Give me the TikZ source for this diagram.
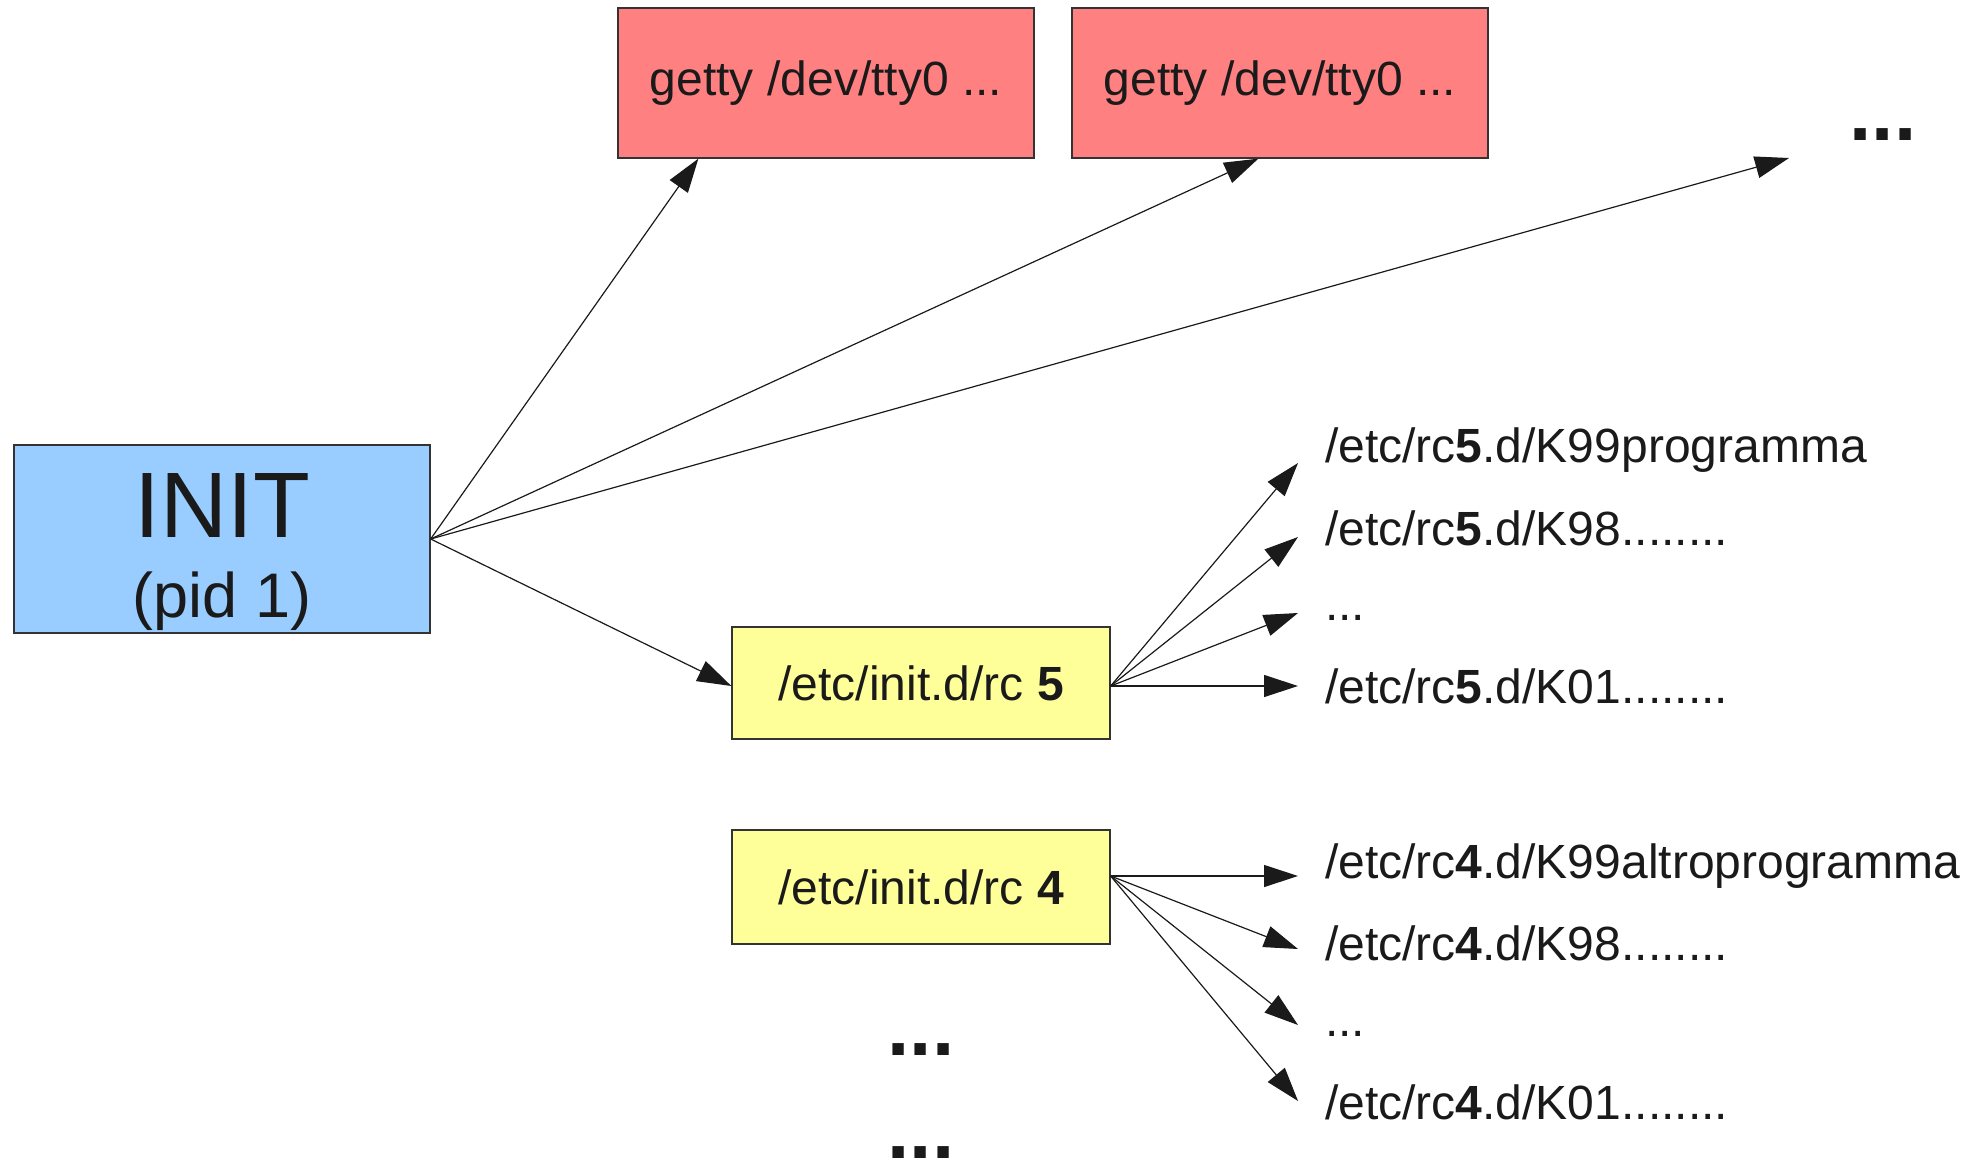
\documentclass[tikz,border=0pt]{standalone}
\usepackage{fontspec}
\setmainfont{Liberation Sans}
\usetikzlibrary{arrows.meta}
\definecolor{initblue}{HTML}{99CCFF}
\definecolor{gettyred}{HTML}{FF8080}
\definecolor{rcyellow}{HTML}{FFFF99}
\definecolor{ink}{HTML}{1A1A1A}
\definecolor{edge}{HTML}{333333}

\begin{document}
\begin{tikzpicture}[x=1pt,y=-1pt,
  box/.style={draw=edge, line width=1.3pt, inner sep=0pt, text=ink,
    font=\fontsize{48}{58}\selectfont},
  arr/.style={line width=1.2pt, draw=ink,
    -{Triangle[length=34pt,width=22pt]}},
  lbl/.style={anchor=base west, inner sep=0pt, text=ink,
    font=\fontsize{48}{58}\selectfont},
  bigdots/.style={anchor=base, inner sep=0pt, text=ink,
    font=\fontsize{80}{90}\selectfont\bfseries}]
\useasboundingbox (0,0) rectangle (1982,1162);

% process boxes
\node[box, fill=initblue, minimum width=416pt, minimum height=188pt] (init) at (222,539) {};
\node[anchor=base, inner sep=0pt, text=ink, font=\fontsize{93}{93}\selectfont] (inittitle) at (222,537) {INIT};
\node[anchor=base, inner sep=0pt, text=ink, font=\fontsize{63}{63}\selectfont] (initpid) at (222,617) {(pid 1)};

\node[box, fill=gettyred, minimum width=416pt, minimum height=150pt] (getty1) at (826,83) {getty /dev/tty0 ...};
\node[box, fill=gettyred, minimum width=416pt, minimum height=150pt] (getty2) at (1280,83) {getty /dev/tty0 ...};

\node[box, fill=rcyellow, minimum width=378pt, minimum height=112pt] (rc5) at (921,683) {/etc/init.d/rc \textbf{5}};
\node[box, fill=rcyellow, minimum width=378pt, minimum height=114pt] (rc4) at (921,887) {/etc/init.d/rc \textbf{4}};

% ellipses for further processes
\node[bigdots] (moregetty) at (1883,140) {...};
\node[bigdots] (morerc1) at (921,1055) {...};
\node[bigdots] (morerc2) at (921,1158) {...};

% scripts started by each runlevel
\node[lbl] (k5a) at (1325,462) {/etc/rc\textbf{5}.d/K99programma};
\node[lbl] (k5b) at (1325,545) {/etc/rc\textbf{5}.d/K98........};
\node[lbl] (k5c) at (1325,620) {...};
\node[lbl] (k5d) at (1325,703) {/etc/rc\textbf{5}.d/K01........};

\node[lbl] (k4a) at (1325,878) {/etc/rc\textbf{4}.d/K99altroprogramma};
\node[lbl] (k4b) at (1325,960) {/etc/rc\textbf{4}.d/K98........};
\node[lbl] (k4c) at (1325,1036) {...};
\node[lbl] (k4d) at (1325,1119) {/etc/rc\textbf{4}.d/K01........};

% arrow ends
\coordinate (moretip) at (1789,158);
\coordinate (rc5port) at ([yshift=-3pt]rc5.east);
\coordinate (e5a) at (1298,463);
\coordinate (e5b) at (1298,537);
\coordinate (e5c) at (1298,613);
\coordinate (e5d) at (1298,686);
\coordinate (rc4port) at ([yshift=11pt]rc4.east);
\coordinate (e4a) at (1298,876);
\coordinate (e4b) at (1298,949);
\coordinate (e4c) at (1298,1025);
\coordinate (e4d) at (1298,1101);

% INIT forks
\draw[arr] (init.east) -- ([xshift=81pt]getty1.south west);
\draw[arr] (init.east) -- ([xshift=187pt]getty2.south west);
\draw[arr] (init.east) -- (moretip);
\draw[arr] (init.east) -- (rc5port -| rc5.west);

% runlevel 5 scripts
\foreach \e in {e5a,e5b,e5c,e5d}
  \draw[arr] (rc5port) -- (\e);

% runlevel 4 scripts
\foreach \e in {e4a,e4b,e4c,e4d}
  \draw[arr] (rc4port) -- (\e);
\end{tikzpicture}
\end{document}
